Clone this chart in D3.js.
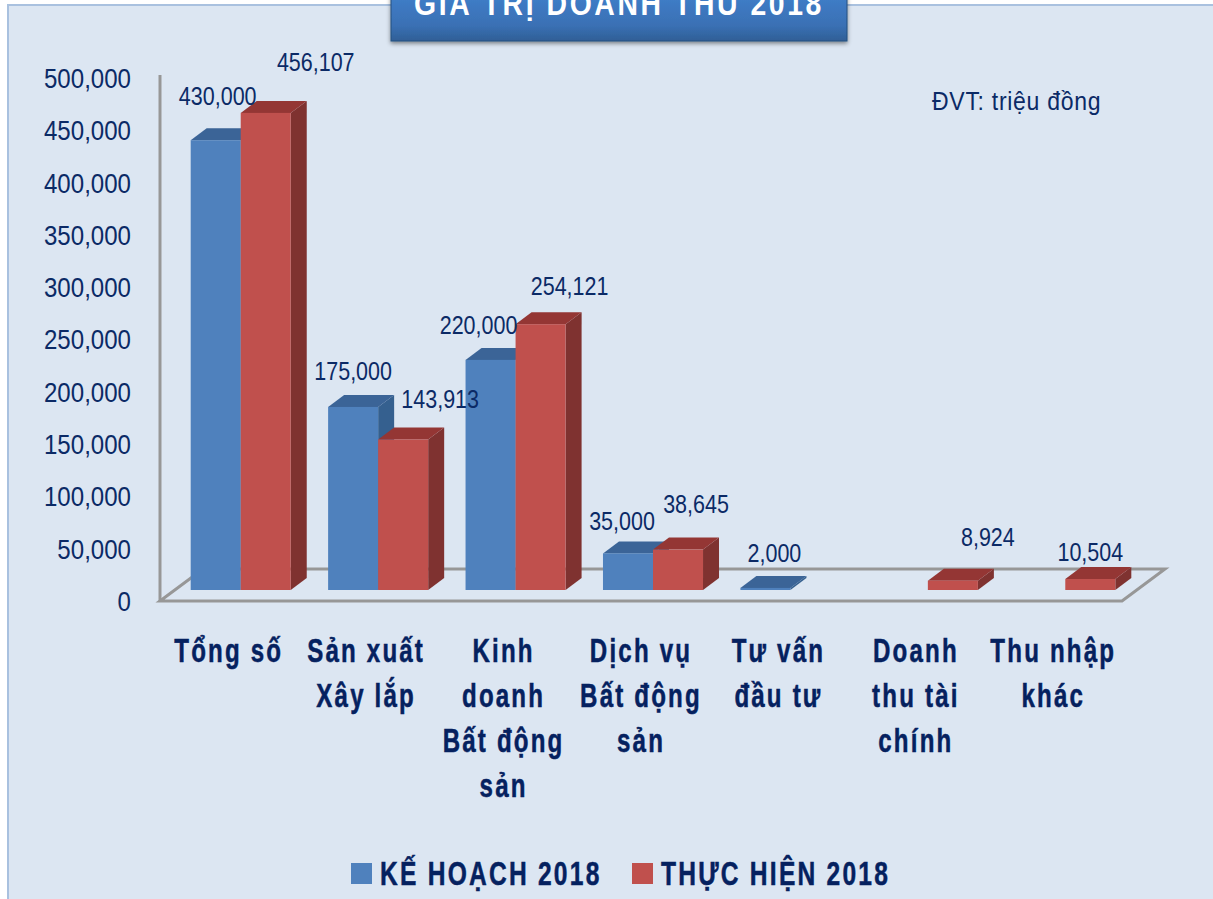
<!DOCTYPE html>
<html>
<head>
<meta charset="utf-8">
<script src="https://cdn.jsdelivr.net/npm/d3@7"></script>
<style>
  body { margin: 0; background: #fff; }
  svg { display: block; }
  text { fill: #0b2a66; font-family: "Liberation Sans", sans-serif; }
  .tick text { font-size: 28px; fill: #0b2a66; }
  .val { font-size: 25px; text-anchor: middle; }
  .cat { font-size: 33px; font-weight: bold; text-anchor: middle; letter-spacing: 3px; fill: #05215f; stroke: #05215f; stroke-width: 0.5px; }
  .leg { font-size: 33px; font-weight: bold; letter-spacing: 3px; fill: #05215f; stroke: #05215f; stroke-width: 0.5px; }
</style>
</head>
<body>
<div id="chart"></div>
<script>
const categories = ["Tổng số", "Sản xuất Xây lắp", "Kinh doanh Bất động sản", "Dịch vụ Bất động sản", "Tư vấn đầu tư", "Doanh thu tài chính", "Thu nhập khác"];
const catLines = [["Tổng số"], ["Sản xuất", "Xây lắp"], ["Kinh", "doanh", "Bất động", "sản"], ["Dịch vụ", "Bất động", "sản"], ["Tư vấn", "đầu tư"], ["Doanh", "thu tài", "chính"], ["Thu nhập", "khác"]];
const keHoach = [430000, 175000, 220000, 35000, 2000, null, null];
const thucHien = [456107, 143913, 254121, 38645, null, 8924, 10504];
const yTicks = [0, 50000, 100000, 150000, 200000, 250000, 300000, 350000, 400000, 450000, 500000];
const seriesNames = ["KẾ HOẠCH 2018", "THỰC HIỆN 2018"];

const width = 1213, height = 899;
const depth = {x: 43, y: 32};      // floor depth
const barShift = {x: 12, y: 11};   // bars sit this far into the floor
const barDepth = {x: 16, y: 12};
const blue = {front: "#4f81bd", top: "#3b6497", side: "#35608f"};
const red = {front: "#c0504d", top: "#943634", side: "#7f3230"};

// label nudges from the bar's top centre, in px
const blueNudge = [[2, -35], [0, -27], [-12, -26], [-6, -23], [9, -26], [0, 0], [0, 0]];
const redNudge = [[50, -42], [37, -31], [29, -29], [18, -37], [0, 0], [35, -35], [0, -18]];

const svg = d3.select("#chart").append("svg").attr("width", width).attr("height", height);

// no condensed font installed, so squeeze the text sideways
function squeezed(cls, px, py, sx, str) {
  return svg.append("text").attr("class", cls)
    .attr("transform", `translate(${px},${py}) scale(${sx},1)`)
    .text(str);
}

// panel
svg.append("rect").attr("x", 8).attr("y", 5).attr("width", width).attr("height", height)
  .attr("fill", "#dce6f2").attr("stroke", "#a9c1df").attr("stroke-width", 2);

const x = d3.scaleBand().domain(categories).range([160, 1122]).paddingInner(0.272).paddingOuter(0.136);
const y = d3.scaleLinear().domain([0, 500000]).range([601, 78]);
const half = x.bandwidth() / 2;

// walls + floor
const floorColor = "#979797";
svg.append("line").attr("x1", x.range()[0]).attr("x2", x.range()[0]).attr("y1", y(0)).attr("y2", 75)
  .attr("stroke", floorColor).attr("stroke-width", 3);
svg.append("path")
  .attr("d", d3.line()([[160, y(0)], [160 + depth.x, y(0) - depth.y], [1122 + depth.x, y(0) - depth.y], [1122, y(0)]]) + "Z")
  .attr("fill", "none").attr("stroke", floorColor).attr("stroke-width", 3);

// y axis labels only
const axis = svg.append("g").attr("transform", "translate(131,0.5)")
  .call(d3.axisLeft(y).tickValues(yTicks).tickFormat(d3.format(",")).tickSize(0).tickPadding(0));
axis.select(".domain").remove();
axis.selectAll(".tick text").attr("transform", "scale(0.86,1)");

function bar(g, x0, w, v, c) {
  const xl = x0 + barShift.x, xr = xl + w;
  const yb = y(0) - barShift.y, yt = y(v) - barShift.y;
  const dx = barDepth.x, dy = barDepth.y;
  g.append("path").attr("fill", c.side)
    .attr("d", d3.line()([[xr, yb], [xr + dx, yb - dy], [xr + dx, yt - dy], [xr, yt]]) + "Z");
  g.append("path").attr("fill", c.top)
    .attr("d", d3.line()([[xl, yt], [xl + dx, yt - dy], [xr + dx, yt - dy], [xr, yt]]) + "Z");
  g.append("rect").attr("x", xl).attr("y", yt).attr("width", w).attr("height", yb - yt).attr("fill", c.front);
}

const bars = svg.append("g");
categories.forEach((cat, i) => {
  if (keHoach[i] != null) bar(bars, x(cat), half, keHoach[i], blue);
  if (thucHien[i] != null) bar(bars, x(cat) + half, half, thucHien[i], red);
});

// value labels
const fmt = d3.format(",");
categories.forEach((cat, i) => {
  const xb = x(cat) + barShift.x + half / 2;
  if (keHoach[i] != null)
    squeezed("val", xb + blueNudge[i][0], y(keHoach[i]) - barShift.y + blueNudge[i][1], 0.86, fmt(keHoach[i]));
  if (thucHien[i] != null)
    squeezed("val", xb + half + redNudge[i][0], y(thucHien[i]) - barShift.y + redNudge[i][1], 0.86, fmt(thucHien[i]));
});

// category labels
categories.forEach((cat, i) => {
  catLines[i].forEach((line, j) => {
    squeezed("cat", x(cat) + half, 662 + j * 45, 0.73, line);
  });
});

squeezed("unit", 932, 110, 0.885, "ĐVT: triệu đồng").style("font-size", "26px").style("letter-spacing", "0.8px");

// title box
const defs = svg.append("defs");
const grad = defs.append("linearGradient").attr("id", "titleGrad").attr("x1", 0).attr("x2", 0).attr("y1", 0).attr("y2", 1);
grad.append("stop").attr("offset", "0%").attr("stop-color", "#4080cc");
grad.append("stop").attr("offset", "70%").attr("stop-color", "#3a70b4");
grad.append("stop").attr("offset", "100%").attr("stop-color", "#2f5f96");
const shadow = defs.append("filter").attr("id", "titleShadow").attr("x", "-5%").attr("y", "-5%").attr("width", "110%").attr("height", "130%");
shadow.append("feDropShadow").attr("dx", 0).attr("dy", 2).attr("stdDeviation", 2).attr("flood-color", "#000").attr("flood-opacity", 0.45);
svg.append("rect").attr("x", 391).attr("y", -10).attr("width", 456).attr("height", 51)
  .attr("fill", "url(#titleGrad)").attr("stroke", "#24507f").attr("filter", "url(#titleShadow)");
squeezed("title", 619, 15, 0.86, "GIÁ TRỊ DOANH THU 2018")
  .attr("text-anchor", "middle")
  .style("fill", "#fff").style("font-size", "33px").style("font-weight", "bold").style("letter-spacing", "3px");

// legend
const legX = [351, 632];
seriesNames.forEach((name, i) => {
  svg.append("rect").attr("x", legX[i]).attr("y", 863).attr("width", 21).attr("height", 21)
    .attr("fill", i === 0 ? blue.front : red.front);
  squeezed("leg", legX[i] + 29, 885, 0.745, name);
});
</script>
</body>
</html>
